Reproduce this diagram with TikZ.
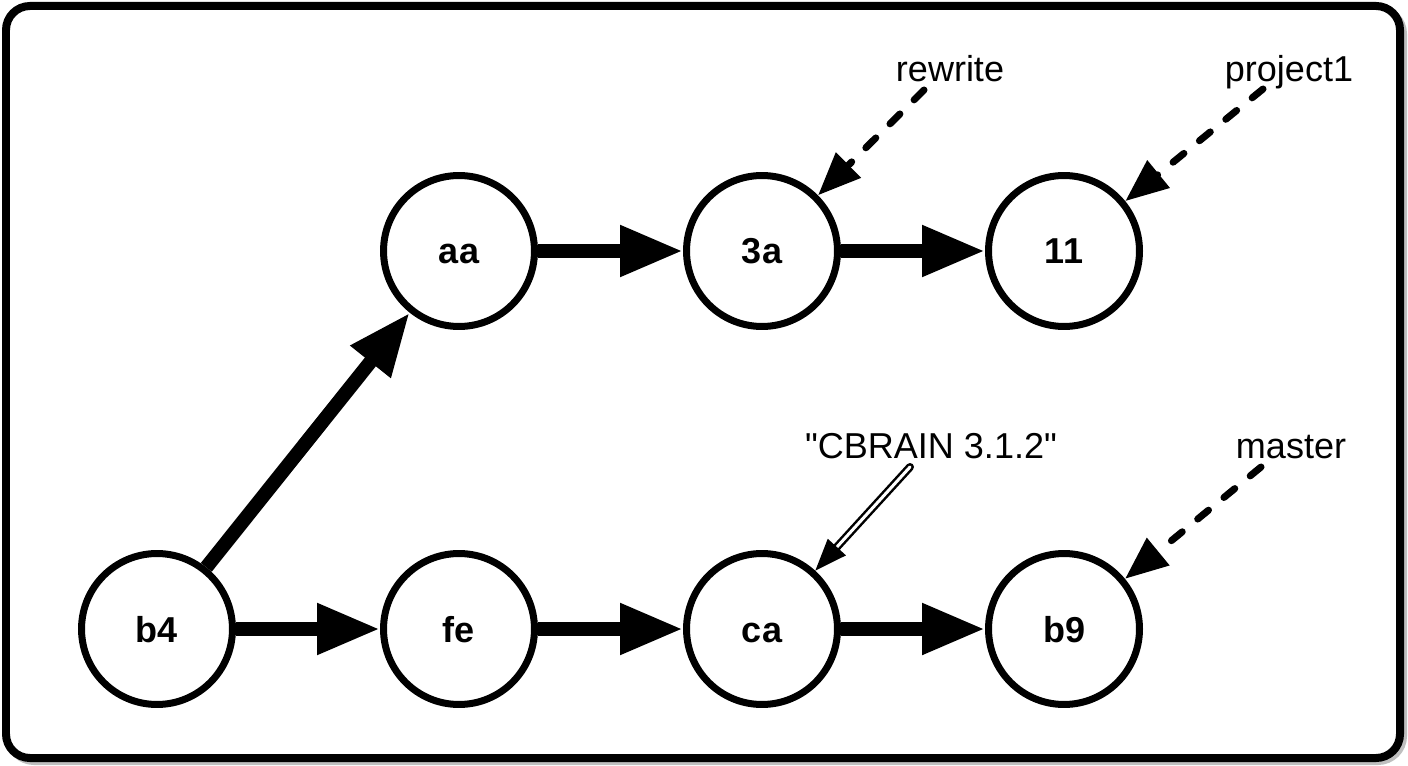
\documentclass[tikz,border=0pt]{standalone}
\usepackage{fontspec}
\setmainfont{Liberation Sans}[Ligatures=TeXOff]
\usetikzlibrary{arrows.meta}
\begin{document}
\begin{tikzpicture}[x=0.02cm, y=-0.02cm,
        commit/.style = {circle, draw,
            line width=0.14cm,
            minimum size=3.02cm, inner sep=0pt,
            text height=0.52cm, text depth=0pt,
            font=\fontsize{20.5}{24}\selectfont\bfseries},
        parent/.style = {line width=0.28cm,
            -{Triangle[length=1.26cm, width=0.96cm]}},
        ref/.style = {anchor=base,
            font=\fontsize{20.5}{24}\selectfont},
        pointer/.style = {line width=0.14cm, line cap=round,
            dash pattern=on 0.28cm off 0.4cm,
            -{Triangle[length=0.86cm, width=0.68cm]}},
        tag/.style = {double, line width=0.05cm,
            double distance=0.06cm, line cap=round,
            -{Triangle[length=0.64cm, width=0.48cm]}}]

    % Frame
    \useasboundingbox (0,0) rectangle (1408,766);
    \draw[black!25, line width=0.16cm, rounded corners=0.5cm] (9,9) rectangle (1403,761);
    \draw[fill=white, line width=0.16cm, rounded corners=0.48cm] (6,6) rectangle (1400,758);

    % Commits
    \node[commit] (cb4) at (157,629) {b4};
    \node[commit] (cfe) at (459,629) {fe};
    \node[commit] (cca) at (762,629) {ca};
    \node[commit] (cb9) at (1064,629) {b9};
    \node[commit] (caa) at (459,251) {aa};
    \node[commit] (c3a) at (762,251) {3a};
    \node[commit] (c11) at (1064,251) {11};

    % History
    \draw[parent] (cb4) -- (cfe);
    \draw[parent] (cfe) -- (cca);
    \draw[parent] (cca) -- (cb9);
    \draw[parent] (cb4) -- (caa);
    \draw[parent] (caa) -- (c3a);
    \draw[parent] (c3a) -- (c11);

    % Branches and tag
    \node[ref] (rewrite) at (950,82) {rewrite};
    \node[ref] (project1) at (1289,82) {project1};
    \node[ref] (master) at (1291,458) {master};
    \node[ref] (release) at (931,458) {"CBRAIN 3.1.2"};

    \draw[pointer] ([shift={(-26,8)}]rewrite.base) -- (c3a);
    \draw[pointer] ([shift={(-26,7)}]project1.base) -- (c11);
    \draw[pointer] ([shift={(-30,9)}]master.base) -- (cb9);
    \draw[tag] ([shift={(-21,9)}]release.base) -- (cca);

\end{tikzpicture}
\end{document}
